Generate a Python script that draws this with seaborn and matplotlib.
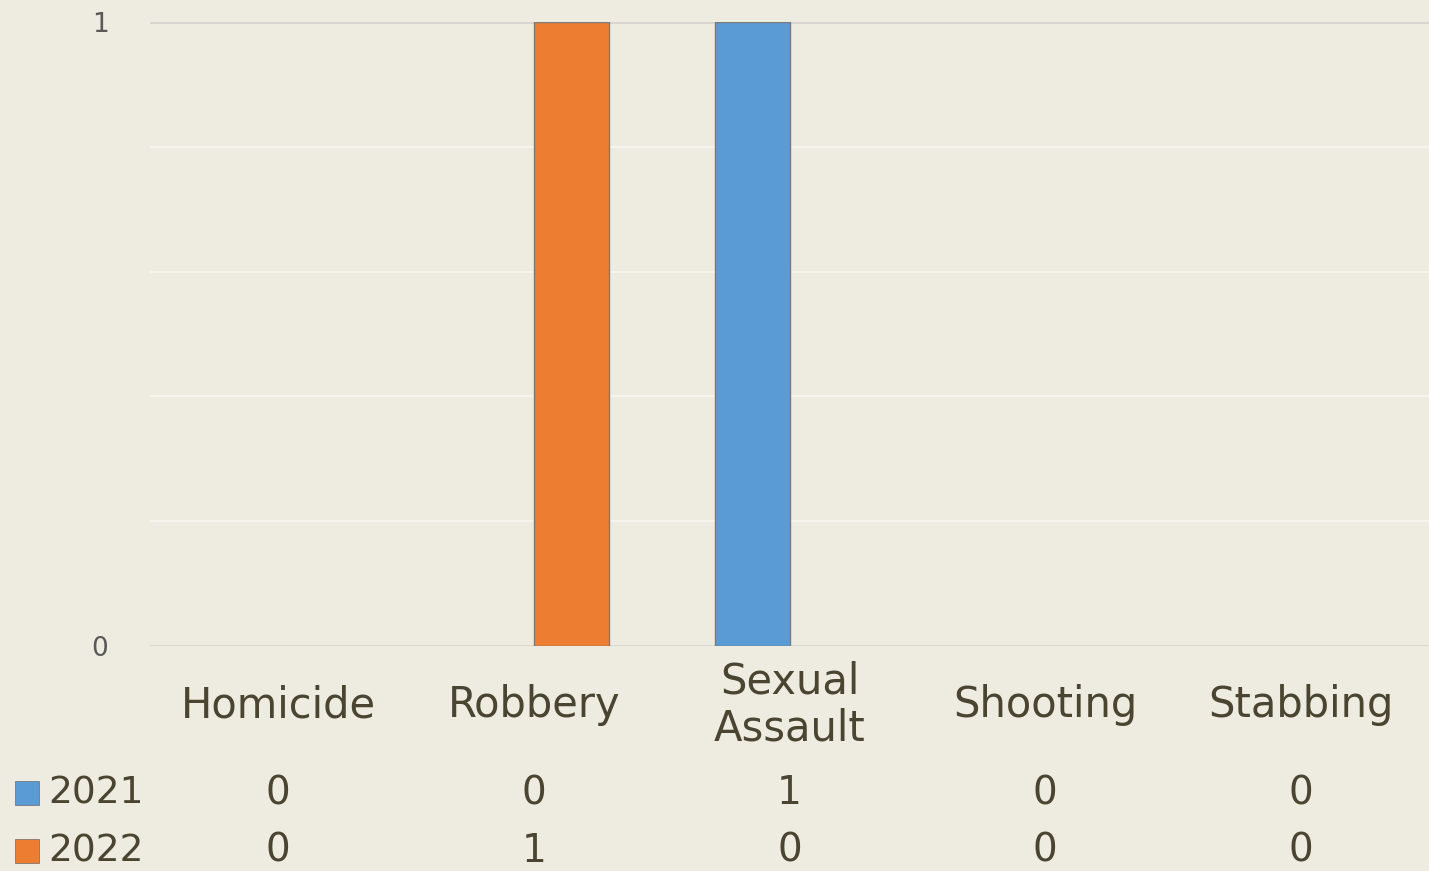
import pandas as pd
import numpy as np
import matplotlib.pyplot as plt
import seaborn as sns
from matplotlib.patches import Rectangle

# Data
categories = ['Homicide', 'Robbery', 'Sexual Assault', 'Shooting', 'Stabbing']
cat_labels = ['Homicide', 'Robbery', 'Sexual\nAssault', 'Shooting', 'Stabbing']
years = ['2021', '2022']
values_2021 = [0, 0, 1, 0, 0]
values_2022 = [0, 1, 0, 0, 0]
colors = {'2021': '#5B9BD5', '2022': '#ED7D31'}

df = pd.DataFrame({
    'Category': categories * 2,
    'Year': ['2021'] * len(categories) + ['2022'] * len(categories),
    'Count': values_2021 + values_2022,
})

bg = '#EEEBE0'
text_col = '#4A4530'

sns.set_style('white')
plt.rcParams['font.family'] = ['DejaVu Sans']

fig = plt.figure(figsize=(14.29, 8.71), dpi=100, facecolor=bg)
ax = fig.add_axes([0.105, 0.2583, 0.895, 0.7164])
ax.set_facecolor(bg)

sns.barplot(data=df, x='Category', y='Count', hue='Year', hue_order=years,
            order=categories, palette=colors, saturation=1, width=0.586, ax=ax,
            edgecolor='#7a7a7a', linewidth=1.0, legend=False, zorder=3)

# hide outlines of empty bars
for p in ax.patches:
    if p.get_height() == 0:
        p.set_linewidth(0)

# gridlines
for yv in [0.2, 0.4, 0.6, 0.8]:
    ax.axhline(yv, color='#F8F6F0', lw=1.3, zorder=1)
for yv in [0, 1]:
    ax.axhline(yv, color='#D6D4D0', lw=2, zorder=2)

ax.set_ylim(0, 1)
ax.set_xlim(-0.5, len(categories) - 0.5)
ax.set_yticks([0, 1])
ax.set_yticklabels(['0', '1'])
ax.tick_params(axis='y', length=0, pad=30, labelsize=19, labelcolor='#595959')
ax.set_xticks([])
ax.set_xlabel('')
ax.set_ylabel('')
for s in ax.spines.values():
    s.set_visible(False)

# data table below the chart
tr = ax.get_xaxis_transform()
for i, lab in enumerate(cat_labels):
    ax.text(i, -0.095, lab, transform=tr, ha='center', va='center',
            fontsize=30, color=text_col, linespacing=1.15)
for row_y, vals in [(-0.2356, values_2021), (-0.3285, values_2022)]:
    for i, v in enumerate(vals):
        ax.text(i, row_y, str(v), transform=tr, ha='center', va='center',
                fontsize=28, color=text_col)

# row headers with colour keys
fig_h = 871.0
fig_w = 1429.0
for yr, ypix in [('2021', 793), ('2022', 851)]:
    fig.patches.append(Rectangle((15 / fig_w, 1 - (ypix + 12) / fig_h), 24 / fig_w, 24 / fig_h,
                                 transform=fig.transFigure, facecolor=colors[yr],
                                 edgecolor='#6b6b6b', lw=0.5))
    fig.text(48 / fig_w, 1 - ypix / fig_h, yr, ha='left', va='center',
             fontsize=27, color=text_col)

fig.savefig('out.png', dpi=100, facecolor=bg)
